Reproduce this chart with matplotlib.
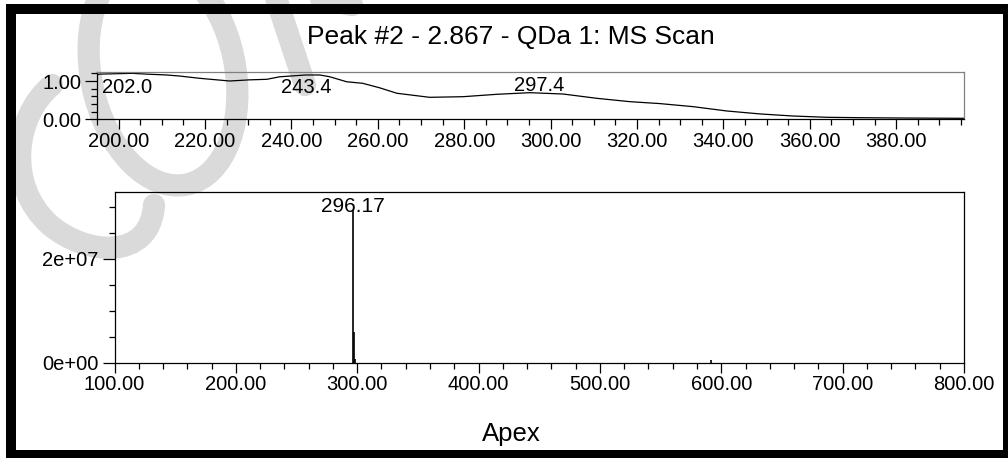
import matplotlib
matplotlib.use("Agg")
import matplotlib.pyplot as plt
from matplotlib.patches import Ellipse, Rectangle, PathPatch
from matplotlib.path import Path
from matplotlib.ticker import MultipleLocator, FuncFormatter, FormatStrFormatter

plt.rcParams["font.family"] = ["Liberation Sans", "DejaVu Sans"]

# --- UV trace (upper panel) ---
uv_wavelength = [195.0, 195.6, 203.2, 206.4, 211.1, 214.1, 218.8, 225.7, 230.3, 234.3,
                 237.3, 243.3, 246.6, 248.9, 252.8, 256.5, 260.5, 264.4, 272.0, 279.7,
                 287.6, 295.2, 302.9, 310.7, 318.4, 325.3, 333.0, 340.8, 348.5, 356.1,
                 364.0, 371.6, 380.9, 394.8, 395.7]
uv_absorbance = [1.157, 1.18, 1.20, 1.18, 1.157, 1.13, 1.07, 1.00, 1.03, 1.044,
                 1.11, 1.157, 1.157, 1.11, 0.98, 0.94, 0.82, 0.68, 0.574, 0.59,
                 0.653, 0.695, 0.66, 0.548, 0.46, 0.41, 0.33, 0.217, 0.14, 0.086,
                 0.052, 0.042, 0.034, 0.026, 0.026]
uv_peak_x = [202.0, 243.4, 297.4]
uv_peak_text = ["202.0", "243.4", "297.4"]
uv_peak_text_y = [0.68, 0.68, 0.747]

# --- MS scan (lower panel) ---
ms_mz = [296.17, 297.17, 298.17, 591.33]
ms_intensity = [2.95e7, 6.0e6, 8.0e5, 6.0e5]
ms_peak_x = 296.17
ms_peak_text = "296.17"
ms_peak_text_y = 2.91e7

TITLE = "Peak #2 - 2.867 - QDa 1: MS Scan"
XLABEL = "Apex"

W, H = 1008, 458
fig = plt.figure(figsize=(W / 100, H / 100), dpi=100)

# background layer in pixel coords: watermark + frame
bg = fig.add_axes([0, 0, 1, 1], zorder=0)
bg.set_xlim(0, W)
bg.set_ylim(H, 0)
bg.axis("off")
wm = "#dadada"
wlw = 16
bg.add_patch(Ellipse((163, 72), width=144, height=230, angle=-12,
                     fill=False, ec=wm, lw=wlw))
c_path = Path([(52, 85), (15, 115), (5, 185), (50, 225), (85, 255), (150, 262), (154, 205)],
              [Path.MOVETO, Path.CURVE4, Path.CURVE4, Path.CURVE4,
               Path.CURVE4, Path.CURVE4, Path.CURVE4])
bg.add_patch(PathPatch(c_path, fill=False, ec=wm, lw=wlw, capstyle="round"))
bg.plot([275, 305], [-5, 85], color=wm, lw=wlw, solid_capstyle="round")
bg.plot([285, 352], [-8, 5], color=wm, lw=wlw, solid_capstyle="round")
bg.add_patch(Rectangle((11, 9), 997, 446, fill=False, ec="black", lw=7.2,
                       clip_on=False, zorder=5))


def style(ax, xmaj, xmin, ymaj, ymin):
    ax.set_facecolor("none")
    ax.xaxis.set_major_locator(MultipleLocator(xmaj))
    ax.xaxis.set_minor_locator(MultipleLocator(xmin))
    ax.yaxis.set_major_locator(MultipleLocator(ymaj))
    ax.yaxis.set_minor_locator(MultipleLocator(ymin))
    ax.xaxis.set_major_formatter(FormatStrFormatter("%.2f"))
    ax.tick_params(axis="x", which="major", length=7.5, width=0.9, pad=1.5,
                   labelsize=14.5, direction="out")
    ax.tick_params(axis="x", which="minor", length=4, width=0.9, direction="out")
    ax.tick_params(axis="y", which="major", length=8.3, width=0.9, pad=3,
                   labelsize=14.5, direction="out")
    ax.tick_params(axis="y", which="minor", length=4.2, width=0.9, direction="out")
    for s in ax.spines.values():
        s.set_linewidth(0.9)


# upper panel
ax1 = fig.add_axes([97 / W, 1 - 119.3 / H, 867 / W, 47.3 / H], zorder=1)
ax1.plot(uv_wavelength, uv_absorbance, color="black", lw=0.9)
ax1.set_xlim(195, 395.7)
ax1.set_ylim(0, 1.235)
style(ax1, 20, 5, 1, 0.2)
ax1.yaxis.set_major_formatter(FormatStrFormatter("%.2f"))
ax1.spines["top"].set_color("#808080")
ax1.spines["right"].set_color("#808080")
for x, t, y in zip(uv_peak_x, uv_peak_text, uv_peak_text_y):
    ax1.text(x, y, t, ha="center", va="baseline", fontsize=14.5)

# lower panel
ax2 = fig.add_axes([114.5 / W, 1 - 362.7 / H, 849.5 / W, 170.4 / H], zorder=1)
ax2.vlines(ms_mz, 0, ms_intensity, color="black", lw=1.2)
ax2.set_xlim(100, 800)
ax2.set_ylim(0, 3.286e7)
style(ax2, 100, 20, 2e7, 5e6)
ax2.yaxis.set_major_formatter(FuncFormatter(lambda v, p: f"{v:.0e}"))
ax2.text(ms_peak_x, ms_peak_text_y, ms_peak_text, ha="center", va="baseline",
         fontsize=15)

fig.text(510.5 / W, 1 - 44 / H, TITLE, ha="center", va="baseline", fontsize=19)
fig.text(511 / W, 1 - 441 / H, XLABEL, ha="center", va="baseline", fontsize=18.5)

fig.savefig("out.png", dpi=100)
